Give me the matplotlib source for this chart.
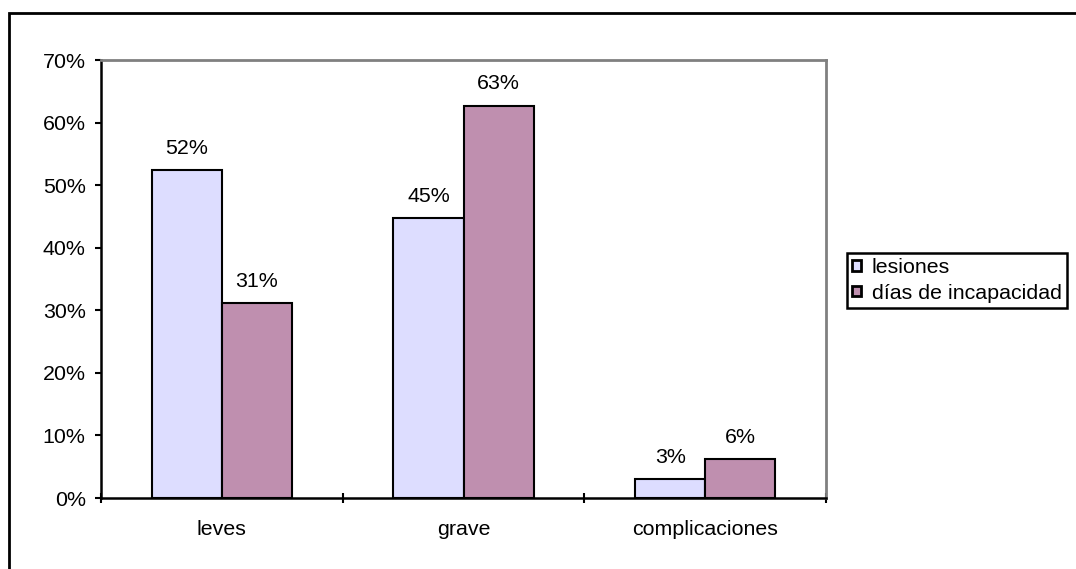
import matplotlib
matplotlib.use('Agg')
import matplotlib.pyplot as plt
from matplotlib.patches import Rectangle
import numpy as np

plt.rcParams['font.family'] = ['Liberation Sans', 'DejaVu Sans']

CATEGORIES = ['leves', 'grave', 'complicaciones']
LESIONES = [0.524, 0.447, 0.030]
DIAS = [0.311, 0.627, 0.062]
SERIES_LABELS = ['lesiones', 'días de incapacidad']
COLORS = ['#DDDDFF', '#BF8FAF']
YTICKS = [0, 0.1, 0.2, 0.3, 0.4, 0.5, 0.6, 0.7]
FS = 15.4

fig = plt.figure(figsize=(10.76, 5.69), dpi=100)
ax = fig.add_axes([101 / 1076, 1 - 498 / 569, 725 / 1076, 438 / 569])

x = np.arange(len(CATEGORIES))
w = 0.29
for k, (vals, lab, col) in enumerate(zip([LESIONES, DIAS], SERIES_LABELS, COLORS)):
    b = ax.bar(x + (k - 0.5) * w, vals, w, color=col, edgecolor='black', linewidth=1.5,
               label=lab, zorder=2)
    ax.bar_label(b, labels=[f'{v * 100:.0f}%' for v in vals], padding=9, fontsize=FS)

ax.set_xlim(-0.5, 2.5)
ax.set_ylim(0, 0.7)
ax.set_yticks(YTICKS)
ax.set_yticklabels([f'{t * 100:.0f}%' for t in YTICKS])
ax.tick_params(axis='y', direction='out', length=4, width=1.5, pad=7, labelsize=FS)

# category boundaries carry the ticks, names sit on minor ticks at centres
ax.set_xticks([-0.5, 0.5, 1.5, 2.5])
ax.set_xticklabels([])
ax.set_xticks(x, minor=True)
ax.set_xticklabels(CATEGORIES, minor=True)
ax.tick_params(axis='x', which='major', direction='inout', length=7, width=1.5)
ax.tick_params(axis='x', which='minor', length=0, pad=16, labelsize=FS)

for s in ['left', 'bottom']:
    ax.spines[s].set_linewidth(1.8)
    ax.spines[s].set_color('black')
for s in ['top', 'right']:
    ax.spines[s].set_linewidth(2)
    ax.spines[s].set_color('#808080')

leg = fig.legend(loc='center left', bbox_to_anchor=(847 / 1076, 1 - 280.5 / 569), fontsize=FS,
                 frameon=True, fancybox=False, edgecolor='black', framealpha=1,
                 handlelength=0.4, handleheight=0.4, handletextpad=0.5,
                 labelspacing=0.3, borderpad=0.25, borderaxespad=0)
leg.get_frame().set_linewidth(1.8)
for h in leg.legend_handles:
    h.set_linewidth(2)

# chart frame, only its left and top edges fall inside the image
fig.patches.append(Rectangle((9 / 1076, -0.2), 1.2, 1 - 13 / 569 + 0.2, transform=fig.transFigure,
                             fill=False, edgecolor='black', linewidth=2, clip_on=False))

fig.savefig('out.png', dpi=100)
